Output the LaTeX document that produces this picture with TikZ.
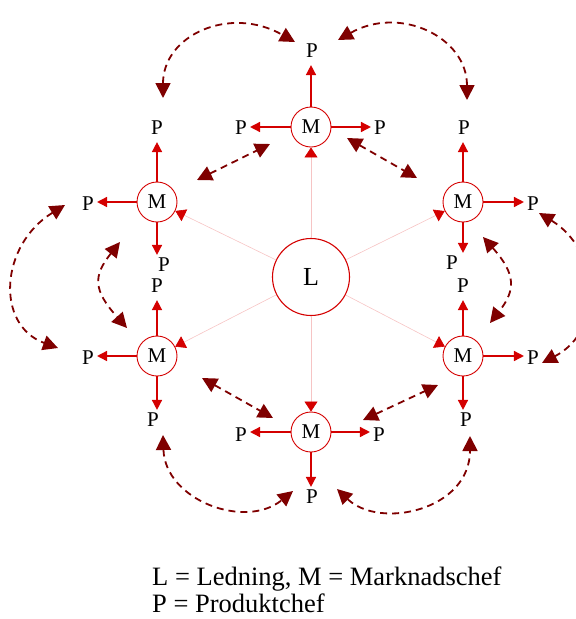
\documentclass[tikz,border=0pt]{standalone}
\usepackage{fontspec}
\setmainfont{Liberation Serif}
\usetikzlibrary{arrows.meta}
\definecolor{mred}{HTML}{D40000}
\definecolor{dred}{HTML}{7F0000}
\definecolor{pinkline}{HTML}{F6C4C4}
\tikzset{
  mnode/.style={circle, draw=mred, line width=0.9pt, minimum size=40pt, inner sep=0pt, font=\fontsize{21}{21}\selectfont},
  lnode/.style={circle, draw=mred, line width=1.1pt, minimum size=77pt, inner sep=0pt, font=\fontsize{26}{26}\selectfont},
  pnode/.style={inner sep=3pt, font=\fontsize{21}{21}\selectfont},
  redarrow/.style={draw=mred, line width=1.5pt, -{Triangle[length=10pt,width=10pt]}},
  uparrow/.style={redarrow, shorten >=4pt},
  lline/.style={draw=pinkline, line width=0.6pt, -{Triangle[length=10pt,width=13pt,color=mred]}},
  dasharr/.style={draw=dred, line width=1.8pt, dash pattern=on 7pt off 5pt, {Triangle[length=15pt,width=15pt]}-{Triangle[length=15pt,width=15pt]}},
  legend/.style={anchor=base west, inner sep=0pt, font=\fontsize{26.5}{26.5}\selectfont}
}
\begin{document}
\begin{tikzpicture}[x=1pt,y=-1pt]
\useasboundingbox (0,0) rectangle (576,619);
% central and M nodes
\node[lnode] (L) at (311,277) {L};
\node[mnode] (Mt) at (311,127) {M};
\node[mnode] (Mul) at (157,202) {M};
\node[mnode] (Mur) at (463,202) {M};
\node[mnode] (Mll) at (157,356) {M};
\node[mnode] (Mlr) at (463,356) {M};
\node[mnode] (Mb) at (311,432) {M};
% P nodes
\node[pnode] (Ptu) at (312,51) {P};
\node[pnode] (Ptl) at (241,128) {P};
\node[pnode] (Ptr) at (380,128) {P};
\node[pnode] (Pulu) at (157,128) {P};
\node[pnode] (Pull) at (88,204) {P};
\node[pnode] (Puld) at (164,265) {P};
\node[pnode] (Puru) at (464,128) {P};
\node[pnode] (Purr) at (533,204) {P};
\node[pnode] (Purd) at (452,263) {P};
\node[pnode] (Pllu) at (157,286) {P};
\node[pnode] (Plll) at (88,358) {P};
\node[pnode] (Plld) at (153,420) {P};
\node[pnode] (Plru) at (463,286) {P};
\node[pnode] (Plrr) at (533,358) {P};
\node[pnode] (Plrd) at (466,420) {P};
\node[pnode] (Pbl) at (241,435) {P};
\node[pnode] (Pbr) at (379,435) {P};
\node[pnode] (Pbd) at (312,497) {P};
% L to M
\foreach \m in {Mt,Mul,Mur,Mll,Mlr,Mb} \draw[lline] (L) -- (\m);
% M to P
\draw[uparrow] (Mt.north) -- (Mt.north |- Ptu.south);
\draw[redarrow] (Mt.west) -- (Mt.west -| Ptl.east);
\draw[redarrow] (Mt.east) -- (Mt.east -| Ptr.west);
\draw[uparrow] (Mul.north) -- (Mul.north |- Pulu.south);
\draw[redarrow] (Mul.west) -- (Mul.west -| Pull.east);
\draw[redarrow] (Mul.south) -- (Mul.south |- Puld.north);
\draw[uparrow] (Mur.north) -- (Mur.north |- Puru.south);
\draw[redarrow] (Mur.east) -- (Mur.east -| Purr.west);
\draw[redarrow] (Mur.south) -- (Mur.south |- Purd.north);
\draw[uparrow] (Mll.north) -- (Mll.north |- Pllu.south);
\draw[redarrow] (Mll.west) -- (Mll.west -| Plll.east);
\draw[redarrow] (Mll.south) -- (Mll.south |- Plld.north);
\draw[uparrow] (Mlr.north) -- (Mlr.north |- Plru.south);
\draw[redarrow] (Mlr.east) -- (Mlr.east -| Plrr.west);
\draw[redarrow] (Mlr.south) -- (Mlr.south |- Plrd.north);
\draw[redarrow] (Mb.west) -- (Mb.west -| Pbl.east);
\draw[redarrow] (Mb.east) -- (Mb.east -| Pbr.west);
\draw[redarrow] (Mb.south) -- (Mb.south |- Pbd.north);
% dashed double arrows: endpoints
\coordinate (a1) at (163,98);  \coordinate (a2) at (295,42);
\coordinate (b1) at (338,40);  \coordinate (b2) at (467,100);
\coordinate (c1) at (197,180); \coordinate (c2) at (270,144);
\coordinate (d1) at (347,138); \coordinate (d2) at (417,178);
\coordinate (e1) at (65,205);  \coordinate (e2) at (58,348);
\coordinate (f1) at (120,242); \coordinate (f2) at (127,328);
\coordinate (g1) at (539,213); \coordinate (g2) at (542,363);
\coordinate (h1) at (483,237); \coordinate (h2) at (490,323);
\coordinate (i1) at (202,378); \coordinate (i2) at (273,418);
\coordinate (j1) at (363,420); \coordinate (j2) at (438,385);
\coordinate (k1) at (163,435); \coordinate (k2) at (293,491);
\coordinate (l1) at (337,489); \coordinate (l2) at (470,436);
\draw[dasharr] (a1) .. controls (163,35) and (230,5) .. (a2);
\draw[dasharr] (b1) .. controls (400,5) and (467,37) .. (b2);
\draw[dasharr] (c1) -- (c2);
\draw[dasharr] (d1) -- (d2);
\draw[dasharr] (e1) .. controls (0,245) and (-5,325) .. (e2);
\draw[dasharr] (f1) .. controls (93,276) and (93,290) .. (f2);
\draw[dasharr] (g1) .. controls (600,250) and (605,330) .. (g2);
\draw[dasharr] (h1) .. controls (516,274) and (516,290) .. (h2);
\draw[dasharr] (i1) -- (i2);
\draw[dasharr] (j1) -- (j2);
\draw[dasharr] (k1) .. controls (165,500) and (245,530) .. (k2);
\draw[dasharr] (l1) .. controls (380,530) and (470,510) .. (l2);
% legend
\node[legend] (leg1) at (152,585) {L = Ledning, M = Marknadschef};
\node[legend] (leg2) at (152,612) {P = Produktchef};
\end{tikzpicture}
\end{document}
